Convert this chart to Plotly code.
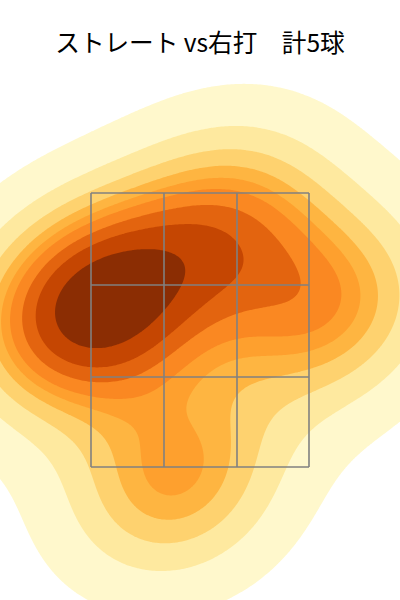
import numpy as np
import plotly.graph_objects as go

title = "ストレート vs右打　計5球"
pitch_x = [72, 112, 226, 326, 175]
pitch_y = [318, 297, 224, 309, 478]
zone_x = [91, 164, 237, 309]
zone_y = [193, 285, 377, 467]
band_colors = ["#FFF8CC", "#FEE99F", "#FED26F", "#FEB541", "#FEA02E",
               "#FA8822", "#E3640F", "#C54602", "#8B2D03"]
iso_props = [0.05, 0.1556, 0.2611, 0.3667, 0.4722, 0.5778, 0.6833, 0.7889, 0.8944]


def kde(xs, ys, X, Y):
    pts = np.array([xs, ys], dtype=float)
    cov = np.cov(pts) * len(xs) ** (-1 / 3)
    inv = np.linalg.inv(cov)
    Z = np.zeros_like(X, dtype=float)
    for px, py in zip(xs, ys):
        dx, dy = X - px, Y - py
        Z += np.exp(-0.5 * (inv[0, 0] * dx * dx + 2 * inv[0, 1] * dx * dy + inv[1, 1] * dy * dy))
    return Z


gx = np.arange(-300, 701, 2.0)
gy = np.arange(-300, 901, 2.0)
X, Y = np.meshgrid(gx, gy)
Z = kde(pitch_x, pitch_y, X, Y)
vals = np.sort(Z.ravel())
cum = np.cumsum(vals) / vals.sum()
levels = [float(vals[np.searchsorted(cum, p_)]) for p_ in iso_props]

fig = go.Figure()
for lev, col in zip(levels, band_colors):
    fig.add_trace(go.Contour(
        x=gx, y=gy, z=Z, showscale=False, hoverinfo="skip",
        contours=dict(type="constraint", operation="<=", value=lev),
        fillcolor=col, line=dict(width=0),
    ))
line = dict(color="rgb(128,128,128)", width=1.6)
for x in zone_x:
    fig.add_trace(go.Scatter(x=[x, x], y=[zone_y[0], zone_y[-1]], mode="lines", line=line, hoverinfo="skip"))
for y in zone_y:
    fig.add_trace(go.Scatter(x=[zone_x[0], zone_x[-1]], y=[y, y], mode="lines", line=line, hoverinfo="skip"))

fig.update_layout(
    width=400, height=600, margin=dict(l=0, r=0, t=0, b=0),
    paper_bgcolor="white", plot_bgcolor="white", showlegend=False,
    xaxis=dict(range=[0, 400], visible=False),
    yaxis=dict(range=[600, 0], visible=False),
    title=dict(text=title, x=0.5, xanchor="center", y=0.928, yanchor="middle",
               font=dict(family="Noto Sans CJK JP", size=24.6, color="black")),
)
fig.write_html("out.html", post_script="document.body.style.margin='0';",
               config={"displayModeBar": False})
